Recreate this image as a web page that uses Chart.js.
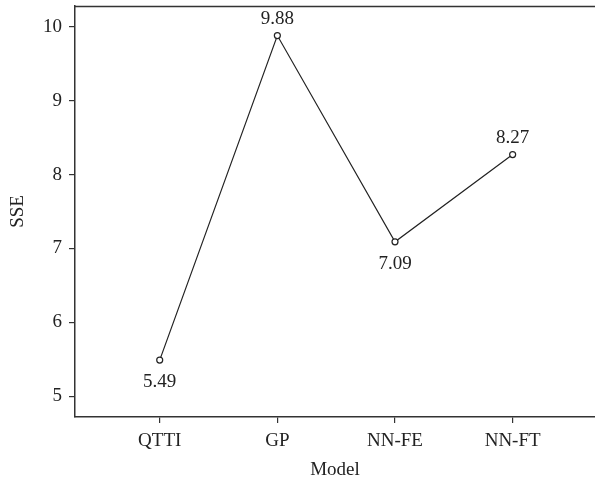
<!DOCTYPE html>
<html>
<head>
<meta charset="utf-8">
<script src="https://cdn.jsdelivr.net/npm/chart.js@4/dist/chart.umd.min.js"></script>
<style>
  html, body { margin: 0; padding: 0; background: #fff; }
  #wrap { width: 595px; height: 483px; }
</style>
</head>
<body>
<div id="wrap"><canvas id="chart" width="595" height="483"></canvas></div>
<script>
const models = ["QTTI", "GP", "NN-FE", "NN-FT"];
const sse = [5.49, 9.88, 7.09, 8.27];
const labelBelow = [true, false, true, false];
const yTicks = [5, 6, 7, 8, 9, 10];

const font = { family: "'Liberation Serif', 'DejaVu Serif', serif", size: 19 };
const ink = "#222";

// value labels next to each point + top frame line
const extras = {
  id: "extras",
  afterDatasetsDraw(chart) {
    const ctx = chart.ctx;
    const area = chart.chartArea;
    ctx.save();
    ctx.strokeStyle = "#333";
    ctx.lineWidth = 1.5;
    ctx.beginPath();
    ctx.moveTo(area.left, area.top + 0.5);
    ctx.lineTo(area.right, area.top + 0.5);
    ctx.stroke();

    ctx.fillStyle = ink;
    ctx.font = font.size + "px " + font.family;
    ctx.textAlign = "center";
    ctx.textBaseline = "middle";
    chart.getDatasetMeta(0).data.forEach((pt, i) => {
      const dy = labelBelow[i] ? 22 : -17;
      ctx.fillText(sse[i].toFixed(2), pt.x, pt.y + dy);
    });
    ctx.restore();
  }
};

function noPad(s) {
  s.paddingTop = 0; s.paddingBottom = 0; s.paddingLeft = 0; s.paddingRight = 0;
}

new Chart("chart", {
  type: "line",
  data: {
    datasets: [{
      data: sse.map((v, i) => ({ x: i, y: v })),
      borderColor: ink,
      borderWidth: 1.2,
      pointRadius: 3,
      pointBorderWidth: 1.2,
      pointBorderColor: ink,
      pointBackgroundColor: "#fff",
      fill: false,
      tension: 0
    }]
  },
  options: {
    responsive: false,
    animation: false,
    layout: { autoPadding: false, padding: { top: 6, right: 0, left: 0, bottom: 0 } },
    plugins: { legend: { display: false }, tooltip: { enabled: false } },
    scales: {
      x: {
        type: "linear",
        min: -0.72,
        max: 3.7,
        afterBuildTicks: s => { s.ticks = models.map((m, i) => ({ value: i })); },
        afterFit: s => { s.height = 66; noPad(s); },
        ticks: {
          callback: v => models[v],
          color: ink, font: font, padding: 7, maxRotation: 0, autoSkip: false
        },
        grid: { drawOnChartArea: false, drawTicks: true, tickLength: 6, color: "#333", lineWidth: 1.2 },
        border: { display: true, color: "#333", width: 1.5 },
        title: { display: true, text: "Model", color: ink, font: font, padding: { top: 0, bottom: 2 } }
      },
      y: {
        min: 4.72,
        max: 10.28,
        afterBuildTicks: s => { s.ticks = yTicks.map(v => ({ value: v })); },
        afterFit: s => { s.width = 75; noPad(s); },
        ticks: { color: ink, font: font, padding: 7 },
        grid: { drawOnChartArea: false, drawTicks: true, tickLength: 6, color: "#333", lineWidth: 1.2 },
        border: { display: true, color: "#333", width: 1.5 },
        title: { display: true, text: "SSE", color: ink, font: font, padding: { top: 7, bottom: 0 } }
      }
    }
  },
  plugins: [extras]
});
</script>
</body>
</html>
